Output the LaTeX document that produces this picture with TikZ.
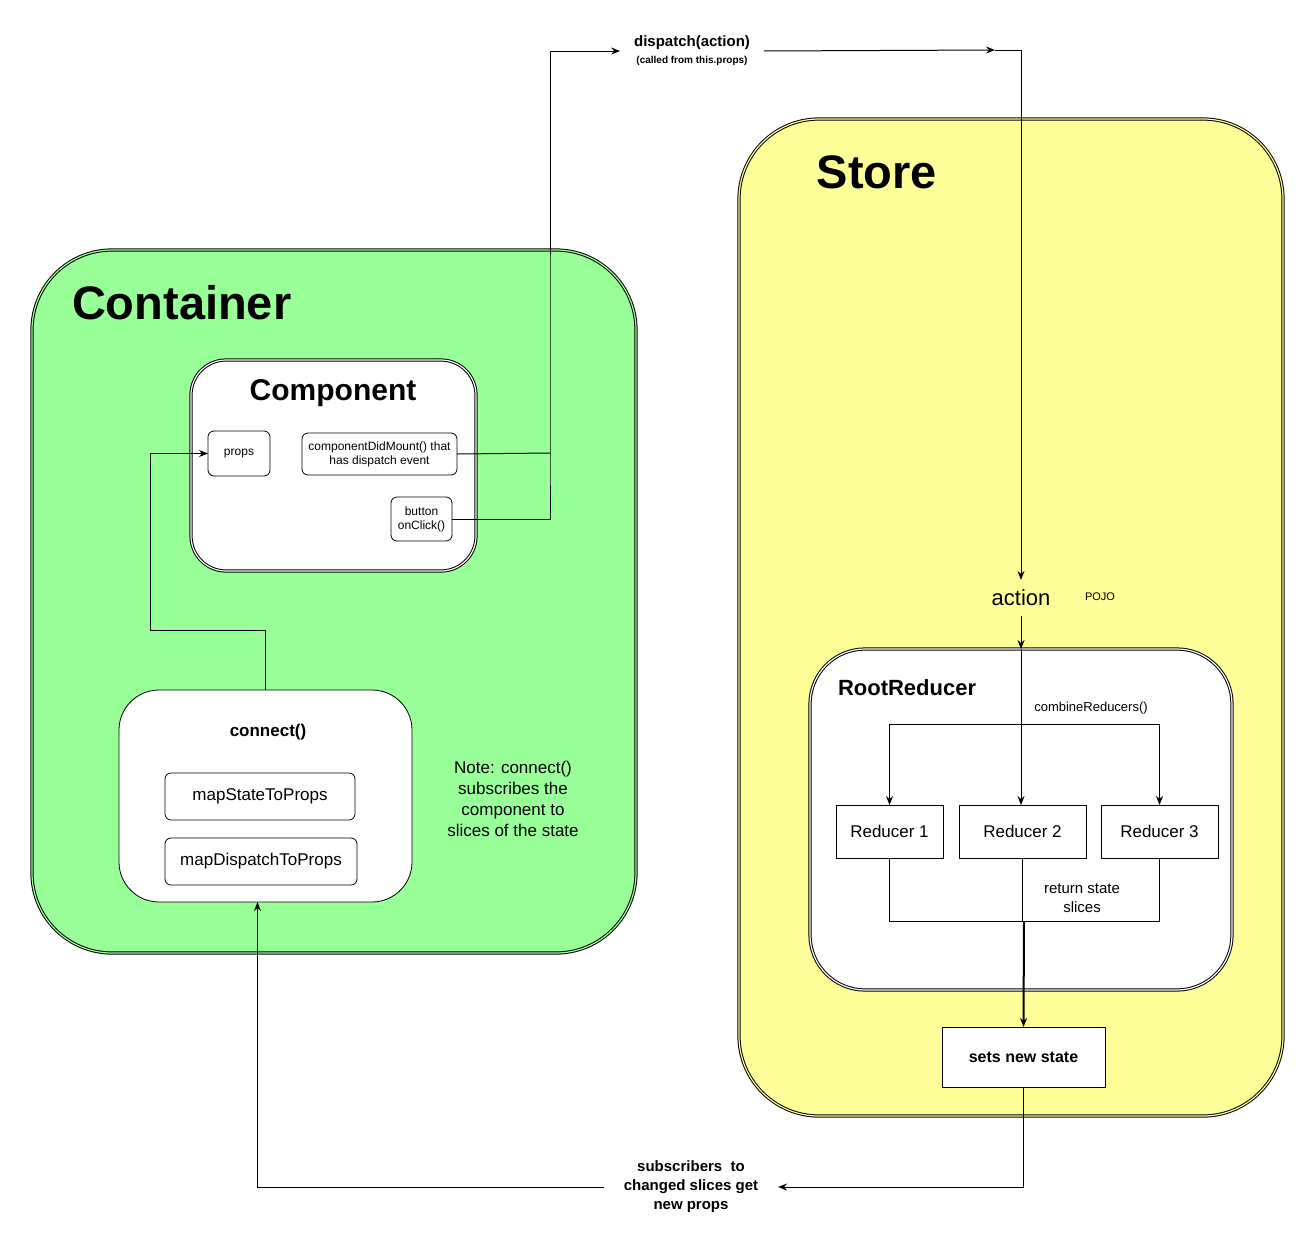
\documentclass[tikz,border=0pt]{standalone}
\usepackage{fontspec}
\setmainfont{Liberation Sans}
\usepackage{tikz}
\usetikzlibrary{positioning,arrows.meta}
\definecolor{ContainerGreen}{HTML}{99FF99}
\definecolor{StoreYellow}{HTML}{FFFF99}

\begin{document}
\begin{tikzpicture}[x=1pt, y=-1pt, line width=1pt,
    every node/.style={inner sep=0pt, outer sep=0pt, align=center},
    panel/.style={draw, double=#1, double distance=1.2pt, line width=1pt, fill=#1},
    smallbox/.style={draw, fill=white, rounded corners=6pt, line width=0.8pt},
    redbox/.style={draw, fill=white, line width=0.8pt, minimum height=53pt, font=\fontsize{17}{20}\selectfont},
    bigtitle/.style={font=\bfseries\fontsize{47}{56}\selectfont},
    arr/.style={-{Stealth[length=9pt,width=7pt,inset=3pt]}}]
		\useasboundingbox (0,0) rectangle (1315,1245);

		% Conteneur vert et son composant
		\node[panel=ContainerGreen, rounded corners=80pt, minimum width=604pt, minimum height=703pt] (container) at (334,601.5) {};
		\node[bigtitle, anchor=west] (containertitle) at (72,303) {Container};
		\node[panel=white, rounded corners=35pt, minimum width=285pt, minimum height=211pt] (component) at (333.5,465.5) {};
		\node[font=\bfseries\fontsize{30}{36}\selectfont] (componenttitle) at (333,393) {Component};
		\node[smallbox, minimum width=62pt, minimum height=45pt, font=\fontsize{12}{14}\selectfont] (props) at (239,453.5) {props};
		\node[smallbox, minimum width=155pt, minimum height=42pt, font=\fontsize{12}{14}\selectfont] (mount) at (379.5,454) {componentDidMount() that\\has dispatch event};
		\node[smallbox, minimum width=61pt, minimum height=44pt, font=\fontsize{12}{14}\selectfont] (button) at (421.5,519) {button\\onClick()};

		% Bloc connect()
		\node[draw, fill=white, line width=0.8pt, rounded corners=40pt, minimum width=293pt, minimum height=212pt] (connect) at (265.5,796) {};
		\node[font=\bfseries\fontsize{17}{20}\selectfont] (connecttitle) at (268,732) {connect()};
		\node[smallbox, minimum width=190pt, minimum height=47pt, font=\fontsize{17}{20}\selectfont] (mapstate) at (260,796.5) {mapStateToProps};
		\node[smallbox, minimum width=192pt, minimum height=47pt, font=\fontsize{17}{20}\selectfont] (mapdispatch) at (261,861.5) {mapDispatchToProps};
		\node[font=\fontsize{17}{21}\selectfont] (note) at (513,799) {Note: connect()\\subscribes the\\component to\\slices of the state};

		% Store jaune
		\node[panel=StoreYellow, rounded corners=80pt, minimum width=544pt, minimum height=997pt] (store) at (1011,617.5) {};
		\node[bigtitle] (storetitle) at (877,172) {Store};
		\node[font=\fontsize{22}{26}\selectfont, inner ysep=10pt] (action) at (1021,598) {action};
		\node[font=\fontsize{11}{13}\selectfont] (pojo) at (1100,597) {POJO};

		% RootReducer et reducers
		\node[panel=white, rounded corners=55pt, minimum width=422pt, minimum height=341pt] (root) at (1021,819.5) {};
		\node[font=\bfseries\fontsize{22}{26}\selectfont, anchor=west] (roottitle) at (838,688) {RootReducer};
		\node[font=\fontsize{13}{15}\selectfont] (combine) at (1091,708) {combineReducers()};
		\node[redbox, minimum width=107pt] (red1) at (889.5,831.5) {Reducer 1};
		\node[redbox, minimum width=127pt] (red2) at (1022.5,831.5) {Reducer 2};
		\node[redbox, minimum width=117pt] (red3) at (1159.5,831.5) {Reducer 3};
		\node[font=\fontsize{15}{19}\selectfont] (slices) at (1082,898) {return state\\slices};
		\node[draw, fill=white, line width=0.8pt, minimum width=163pt, minimum height=60pt, font=\bfseries\fontsize{16}{19}\selectfont] (newstate) at (1023.5,1057) {sets new state};

		% Etiquettes des fleches
		\node[font=\bfseries\fontsize{15}{17}\selectfont, inner xsep=14pt] (dispatch) at (692,51) {dispatch(action)\\\fontsize{10}{12}\selectfont(called from this.props)};
		\node[font=\bfseries\fontsize{15}{19}\selectfont, inner xsep=20pt] (subs) at (691,1187) {subscribers\ \ to\\changed slices get\\new props};

		% Coordonnees des coudes
		\coordinate (bend) at (150,630);
		\coordinate (rise) at (550,453);
		\coordinate (mid) at (995,50);
		\coordinate (split) at (1021,724);
		\coordinate (join) at (1024,921);

		% Fleches
		\draw[arr] (connect.north) |- (bend) |- (props.west);
		\draw (mount.east) -- (rise);
		\draw[arr] (button.east) -| (rise) |- (dispatch.west);
		\draw[arr] (dispatch.east) -- (mid);
		\draw[arr] (mid) -| (action.north);
		\draw[arr] (action.south) -- (action.south |- root.north);
		\draw[arr] (action.south |- root.north) -- (action.south |- red2.north);
		\draw[arr] (split) -| (red1.north);
		\draw[arr] (split) -| (red3.north);
		\draw (red1.south) |- (join) -| (red3.south);
		\draw (red2.south) -- (red2.south |- join);
		\draw[arr, line width=2pt] (join) -- (newstate.north);
		\draw[arr] (newstate.south) |- (subs.east);
		\draw[arr] (subs.west) -| ([xshift=-8pt]connect.south);
	\end{tikzpicture}
\end{document}
